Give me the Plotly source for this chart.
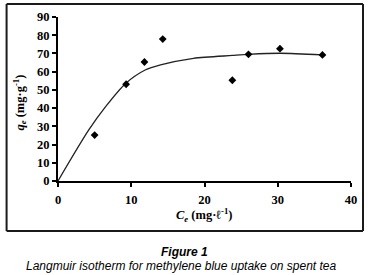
import plotly.graph_objects as go

# Experimental data
ce = [5.0, 9.3, 11.8, 14.3, 23.8, 26.0, 30.3, 36.1]
qe = [25.2, 53.1, 65.3, 77.9, 55.3, 69.5, 72.6, 69.2]

# Fitted (Langmuir) curve
fit_ce = [0, 4.2, 6.5, 9.2, 11.9, 14.0, 18.5, 23.8, 26.0, 30.3, 36.1]
fit_qe = [0, 28.0, 40.8, 53.4, 60.9, 63.7, 67.3, 68.9, 69.5, 70.1, 69.2]

x_ticks = [0, 10, 20, 30, 40]
y_ticks = [0, 10, 20, 30, 40, 50, 60, 70, 80, 90]

W, H = 371, 275
L, R, T, B = 57.5, 351, 17, 181  # plot area pixels


def px(x):
    return (x - L) / (R - L)


def py(y):
    return (B - y) / (B - T)


fig = go.Figure()
fig.add_trace(go.Scatter(x=fit_ce, y=fit_qe, mode="lines",
                         line=dict(color="#222222", width=1.3, shape="spline", smoothing=0.8),
                         hoverinfo="skip", showlegend=False))
fig.add_trace(go.Scatter(x=ce, y=qe, mode="markers",
                         marker=dict(symbol="diamond", size=6, color="black"),
                         showlegend=False))

axis_common = dict(showline=True, linecolor="black", linewidth=2, ticks="outside",
                   ticklen=4, tickwidth=1.5, tickcolor="black", showgrid=False,
                   zeroline=False, automargin=False,
                   tickfont=dict(family="Liberation Serif", size=12.5, color="black", weight="bold"))

fig.update_xaxes(range=[0, 40], tickvals=x_ticks, ticklabelstandoff=2, **axis_common)
fig.update_yaxes(range=[0, 90], tickvals=y_ticks, **axis_common)


def note(x, y, text, family, size, angle=0):
    return dict(x=px(x), y=py(y), xref="paper", yref="paper", showarrow=False,
                xanchor="center", yanchor="middle", textangle=angle, text=text,
                font=dict(family=family, size=size, color="black"))


ann = [
    note(204, 215, "<b><i>C<sub>e</sub></i> (mg·ℓ<sup>-1</sup>)</b>", "Liberation Serif", 12.5),
    note(19, 103, "<b><i>q<sub>e</sub></i> (mg·g<sup>-1</sup>)</b>", "Liberation Serif", 12.5, -90),
    note(184, 252, "<b><i>Figure 1</i></b>", "Liberation Sans", 12),
    note(181, 266, "<i>Langmuir isotherm for methylene blue uptake on spent tea</i>", "Liberation Sans", 12),
]

# Outer frame drawn as four line segments
bx0, bx1, by0, by1 = px(6), px(363), py(231), py(4)
frame = [(bx0, by0, bx1, by0), (bx0, by1, bx1, by1), (bx0, by0, bx0, by1), (bx1, by0, bx1, by1)]
shapes = [dict(type="line", xref="paper", yref="paper", layer="above",
               x0=a, y0=b, x1=c, y1=d, line=dict(color="#1a1a1a", width=2))
          for a, b, c, d in frame]

fig.update_layout(width=W, height=H, margin=dict(l=L, r=W - R, t=T, b=H - B, pad=0, autoexpand=False),
                  plot_bgcolor="white", paper_bgcolor="white",
                  annotations=ann, shapes=shapes)

fig.write_html("out.html", config={"displayModeBar": False},
               post_script="document.body.style.margin='0px';")
